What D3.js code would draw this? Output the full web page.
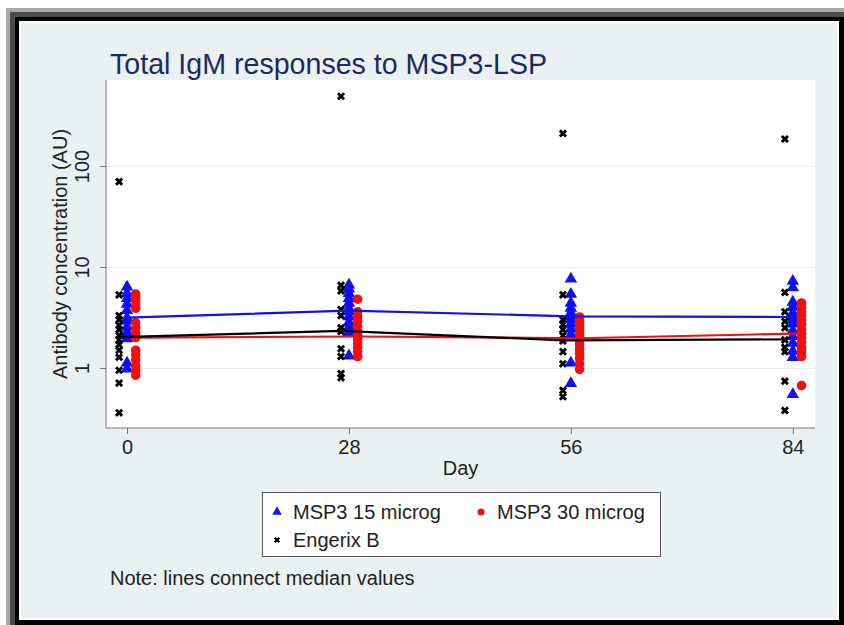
<!DOCTYPE html>
<html>
<head>
<meta charset="utf-8">
<script src="https://cdn.jsdelivr.net/npm/d3@7"></script>
<style>
  body { margin: 0; background: #fff; }
  svg { display: block; font-family: "Liberation Sans", Arial, sans-serif; }
</style>
</head>
<body>
<div id="chart"></div>
<script>
// days and tick labels
const days = [0, 28, 56, 84];
const yTicks = [1, 10, 100];

// individual values per day
const msp15 = [
  [6.5, 5.6, 5.0, 4.4, 3.8, 3.2, 3.0, 2.6, 2.3, 2.0, 1.15, 1.0],
  [6.8, 6.2, 5.6, 5.0, 4.5, 4.0, 3.7, 3.3, 2.9, 2.6, 2.3, 1.35],
  [7.8, 5.5, 4.5, 4.0, 3.6, 3.3, 3.1, 2.8, 2.5, 2.2, 1.15, 0.72],
  [7.4, 6.4, 4.6, 4.1, 3.6, 3.3, 3.1, 2.8, 2.4, 2.1, 1.8, 1.5, 1.3, 0.56]
];
const msp30 = [
  [5.4, 5.0, 4.6, 4.2, 3.9, 2.8, 2.5, 2.2, 2.0, 1.5, 1.35, 1.2, 1.05, 0.95, 0.85],
  [4.8, 3.6, 3.2, 2.9, 2.6, 2.3, 2.1, 2.0, 1.9, 1.75, 1.6, 1.45, 1.3],
  [3.2, 3.0, 2.8, 2.6, 2.4, 2.2, 2.0, 1.95, 1.85, 1.7, 1.55, 1.4, 1.25, 1.1, 0.97],
  [4.4, 4.0, 3.6, 3.3, 3.0, 2.7, 2.4, 2.2, 2.0, 1.8, 1.6, 1.45, 1.3, 0.67]
];
const engerix = [
  [70, 5.3, 3.3, 3.0, 2.65, 2.4, 2.1, 1.9, 1.7, 1.5, 1.28, 0.95, 0.71, 0.36],
  [490, 6.6, 5.8, 3.8, 3.3, 2.5, 2.3, 1.55, 1.3, 0.88, 0.8],
  [210, 5.3, 3.0, 2.7, 2.4, 2.1, 1.85, 1.45, 1.1, 0.6, 0.52],
  [185, 5.6, 3.6, 2.9, 2.5, 1.9, 1.6, 1.45, 0.74, 0.38]
];

// medians (lines)
const msp15Median = [3.15, 3.7, 3.25, 3.2];
const msp30Median = [2.0, 2.05, 1.97, 2.2];
const engerixMedian = [2.02, 2.33, 1.88, 1.92];

const W = 844, H = 625;
const plot = { left: 106, right: 815, top: 80, bottom: 428 };

const svg = d3.select("#chart").append("svg")
  .attr("width", W).attr("height", H);

// frame
svg.append("rect").attr("x", 6).attr("y", 8).attr("width", W - 6).attr("height", H - 8).attr("fill", "#a8a8a8");
svg.append("rect").attr("x", 10).attr("y", 12).attr("width", W - 10).attr("height", H - 12).attr("fill", "#4a4a4a");
svg.append("rect").attr("x", 15).attr("y", 17).attr("width", W - 15).attr("height", H - 17).attr("fill", "#000");
svg.append("rect").attr("x", 19).attr("y", 21).attr("width", W - 24).attr("height", H - 26).attr("fill", "#fff");
svg.append("rect").attr("x", 21).attr("y", 23).attr("width", W - 28).attr("height", H - 30).attr("fill", "#eaf1f3");

// plot region
svg.append("rect")
  .attr("x", plot.left).attr("y", plot.top)
  .attr("width", plot.right - plot.left).attr("height", plot.bottom - plot.top)
  .attr("fill", "#fff");

const x = d3.scaleLinear().domain([-2.65, 86.8]).range([plot.left, plot.right]);
const y = d3.scaleLog().domain([0.2547, 710]).range([plot.bottom, plot.top]);

// grid
svg.append("g")
  .attr("transform", `translate(${plot.left},0)`)
  .call(d3.axisLeft(y).tickValues(yTicks).tickSize(-(plot.right - plot.left)).tickFormat(""))
  .call(g => g.select(".domain").remove())
  .call(g => g.selectAll("line").attr("stroke", "#e6eef0").attr("stroke-width", 1.2));

// y axis
const yAxis = svg.append("g")
  .attr("transform", `translate(${plot.left},0)`)
  .call(d3.axisLeft(y).tickValues(yTicks).tickSize(6).tickPadding(10).tickFormat(d3.format("d")));
yAxis.select(".domain").attr("stroke", "#777").attr("d", `M0,${plot.top}V${plot.bottom}`);
yAxis.selectAll("line").attr("stroke", "#777");
yAxis.selectAll("text")
  .attr("font-size", 20).attr("fill", "#222").attr("font-family", "Liberation Sans, Arial, sans-serif")
  .attr("text-anchor", "middle").attr("dy", 0)
  .attr("transform", "translate(-17,0) rotate(-90)")
  .attr("x", 0).attr("y", 0);

// x axis
const xAxis = svg.append("g")
  .attr("transform", `translate(0,${plot.bottom})`)
  .call(d3.axisBottom(x).tickValues(days).tickSize(6).tickPadding(6).tickFormat(d3.format("d")));
xAxis.select(".domain").attr("stroke", "#777").attr("d", `M${plot.left},0H${plot.right}`);
xAxis.selectAll("line").attr("stroke", "#777");
xAxis.selectAll("text")
  .attr("font-size", 20).attr("fill", "#222").attr("font-family", "Liberation Sans, Arial, sans-serif");

// axis titles
svg.append("text")
  .attr("x", (plot.left + plot.right) / 2).attr("y", 475)
  .attr("text-anchor", "middle").attr("font-size", 20).attr("fill", "#222")
  .text("Day");
svg.append("text")
  .attr("transform", `translate(67,${(plot.top + plot.bottom) / 2}) rotate(-90)`)
  .attr("text-anchor", "middle").attr("font-size", 20).attr("fill", "#222")
  .text("Antibody concentration (AU)");

// title
svg.append("text")
  .attr("x", 110).attr("y", 74)
  .attr("font-size", 28.6).attr("fill", "#1d2a5c")
  .text("Total IgM responses to MSP3-LSP");

// series
const series = [
  { name: "MSP3 15 microg", values: msp15, median: msp15Median, color: "#1010f0", offset: 0, shape: "tri" },
  { name: "MSP3 30 microg", values: msp30, median: msp30Median, color: "#f01010", offset: 1.1, shape: "circle" },
  { name: "Engerix B", values: engerix, median: engerixMedian, color: "#000", offset: -1, shape: "x" }
];

const triSym = d3.symbol().type(d3.symbolTriangle).size(68);
const xSym = d3.symbol().type(d3.symbolCross).size(42);

function drawMarker(g, s, cx, cy) {
  if (s.shape === "tri") {
    g.append("path").attr("d", triSym()).attr("transform", `translate(${cx},${cy + 1})`).attr("fill", s.color);
  } else if (s.shape === "circle") {
    g.append("circle").attr("cx", cx).attr("cy", cy).attr("r", 4.8).attr("fill", s.color);
  } else {
    g.append("path").attr("d", xSym()).attr("transform", `translate(${cx},${cy}) rotate(45)`).attr("fill", s.color);
  }
}

const marks = svg.append("g");
series.forEach(s => {
  s.values.forEach((vals, i) => {
    vals.forEach(v => drawMarker(marks, s, x(days[i] + s.offset), y(v)));
  });
});

const line = d3.line().x(d => x(d.day)).y(d => y(d.v));
series.forEach(s => {
  svg.append("path")
    .datum(s.median.map((v, i) => ({ day: days[i] + s.offset, v })))
    .attr("fill", "none").attr("stroke", s.color).attr("stroke-width", 2.2)
    .attr("d", line);
});

// legend
const lg = svg.append("g");
lg.append("rect").attr("x", 262.5).attr("y", 492.5).attr("width", 398).attr("height", 64)
  .attr("fill", "#fff").attr("stroke", "#555").attr("stroke-width", 1);
const legendPos = [[277, 512], [481, 512], [277, 540]];
series.forEach((s, i) => {
  const [lx, ly] = legendPos[i];
  if (s.shape === "circle") {
    lg.append("circle").attr("cx", lx).attr("cy", ly).attr("r", 3.5).attr("fill", s.color);
  } else if (s.shape === "tri") {
    lg.append("path").attr("d", d3.symbol().type(d3.symbolTriangle).size(40)())
      .attr("transform", `translate(${lx},${ly})`).attr("fill", s.color);
  } else {
    lg.append("path").attr("d", d3.symbol().type(d3.symbolCross).size(24)())
      .attr("transform", `translate(${lx},${ly}) rotate(45)`).attr("fill", s.color);
  }
  lg.append("text").attr("x", lx + 16).attr("y", ly + 7)
    .attr("font-size", 20).attr("fill", "#222").text(s.name);
});

// note
svg.append("text")
  .attr("x", 110).attr("y", 585)
  .attr("font-size", 20).attr("fill", "#222")
  .text("Note: lines connect median values");
</script>
</body>
</html>
